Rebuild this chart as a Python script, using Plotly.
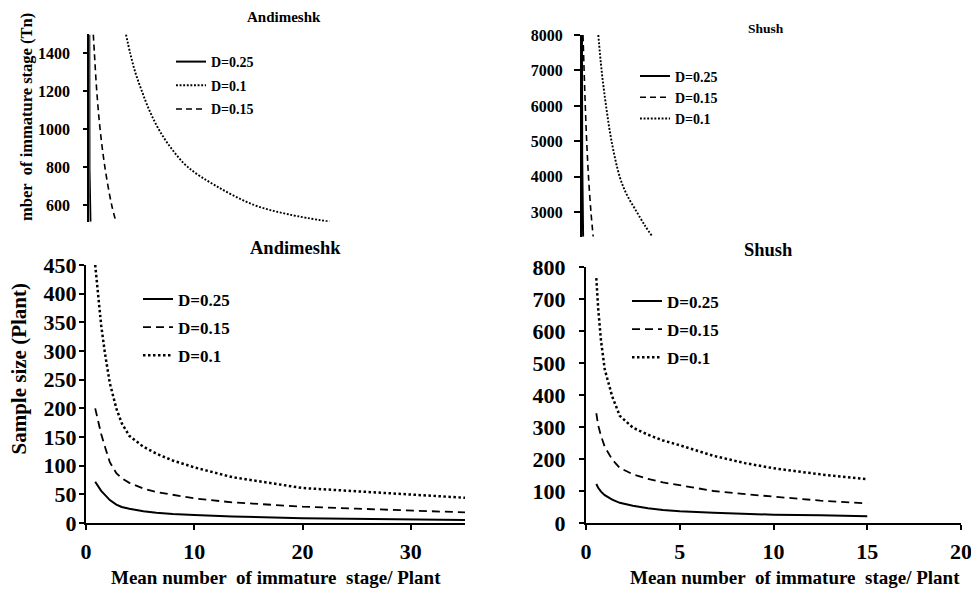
import plotly.graph_objects as go

W, H = 971, 589
FONT = "Times New Roman, Liberation Serif, serif"

# ---------------- data ----------------
# Bottom-left: Andimeshk, sample size (Plant) vs mean number of immature stage / plant
and_x = [0.85, 1.1, 1.4, 1.75, 2.2, 2.8, 3.3, 4.0, 5.3, 6.5, 8.0, 10, 13.5, 20, 25, 30, 35]
and_d010 = [450, 400, 345, 296, 244, 200, 174, 152, 133, 121, 109, 97, 80, 61, 55, 49, 44]
and_d015 = [200, 178, 155, 133, 106, 87, 78, 70, 60, 54, 49, 43, 36, 28.5, 25, 21.5, 18.5]
and_d025 = [72, 64, 56, 49, 40, 32, 28, 25, 20.5, 18, 15.7, 14, 11.5, 8.2, 7, 6, 5.2]

# Bottom-right: Shush
shu_x = [0.55, 0.65, 0.8, 1.0, 1.4, 1.8, 2.5, 3.3, 4.1, 5, 6.8, 8.5, 10, 12.5, 15]
shu_d010 = [765, 670, 570, 480, 395, 335, 298, 276, 258, 243, 210, 187, 171, 152, 137]
shu_d015 = [343, 305, 272, 238, 198, 172, 152, 138, 127, 118, 100, 90, 82, 70, 61]
shu_d025 = [122, 110, 98, 87, 73, 63, 54, 46, 41, 37, 32, 28, 26, 24, 21]

# Top-left: Andimeshk, number of immature stage (Tn) -- partial view
tl_d025_x = [0.0, 0.05, 0.3]
tl_d025_y = [1500, 790, 512]
tl_d015_x = [1.03, 1.31, 1.92, 2.77, 4.0, 5.74, 6.85]
tl_d015_y = [1500, 1400, 1200, 1000, 800, 600, 512]
tl_d010_x = [9.41, 10.5, 11.8, 13.5, 15.4, 17.8, 21.0, 25.3, 32.6, 42.3, 51.3, 61.7]
tl_d010_y = [1500, 1400, 1300, 1200, 1100, 1000, 900, 800, 700, 600, 550, 512]

# Top-right: Shush, Tn -- partial view
tr_d025_x = [0.0, 0.05, 0.3]
tr_d025_y = [8000, 4600, 2312]
tr_d015_x = [0.27, 0.57, 0.89, 1.27, 1.76, 2.43, 3.03]
tr_d015_y = [8000, 7000, 6000, 5000, 4000, 3000, 2312]
tr_d010_x = [4.41, 5.3, 6.5, 8.0, 10.2, 12.1, 14.86, 17.16, 19.05]
tr_d010_y = [8000, 7000, 6000, 5000, 4000, 3500, 3000, 2600, 2312]

# tick labels
and_yticks = [0, 50, 100, 150, 200, 250, 300, 350, 400, 450]
and_xticks = [0, 10, 20, 30]
shu_yticks = [0, 100, 200, 300, 400, 500, 600, 700, 800]
shu_xticks = [0, 5, 10, 15, 20]
tl_yticks = [600, 800, 1000, 1200, 1400]
tr_yticks = [3000, 4000, 5000, 6000, 7000, 8000]


def px(x):
    return x / W


def py(y):
    return 1 - y / H


SOLID = dict(color="black", width=2, dash="solid")
DASH = dict(color="black", width=1.8, dash="8px,5px")
DOT = dict(color="black", width=2.5, dash="2.5px,2.5px")
SOLID_S = dict(color="black", width=2, dash="solid")
DASH_S = dict(color="black", width=1.6, dash="6px,4px")
DOT_S = dict(color="black", width=1.9, dash="1.9px,1.7px")

fig = go.Figure()


def add(x, y, name, line, xa, ya, legend, shape="linear"):
    fig.add_trace(go.Scatter(
        x=x, y=y, name=name, mode="lines", line=dict(line, shape=shape),
        xaxis=xa, yaxis=ya, legend=legend, legendgroup=legend + name,
        hoverinfo="skip"))


# bottom-left
add(and_x, and_d025, "D=0.25", SOLID, "x", "y", "legend")
add(and_x, and_d015, "D=0.15", DASH, "x", "y", "legend")
add(and_x, and_d010, "D=0.1", DOT, "x", "y", "legend")
# bottom-right
add(shu_x, shu_d025, "D=0.25", SOLID, "x2", "y2", "legend2")
add(shu_x, shu_d015, "D=0.15", DASH, "x2", "y2", "legend2")
add(shu_x, shu_d010, "D=0.1", DOT, "x2", "y2", "legend2")
# top-left (legend order: 0.25, 0.1, 0.15)
add(tl_d025_x, tl_d025_y, "D=0.25", SOLID_S, "x3", "y3", "legend3")
add(tl_d010_x, tl_d010_y, "D=0.1", DOT_S, "x3", "y3", "legend3", "spline")
add(tl_d015_x, tl_d015_y, "D=0.15", DASH_S, "x3", "y3", "legend3", "spline")
# top-right
add(tr_d025_x, tr_d025_y, "D=0.25", SOLID_S, "x4", "y4", "legend4")
add(tr_d015_x, tr_d015_y, "D=0.15", DASH_S, "x4", "y4", "legend4", "spline")
add(tr_d010_x, tr_d010_y, "D=0.1", DOT_S, "x4", "y4", "legend4", "spline")

tick_font_big = dict(family=FONT, size=22, color="black", weight="bold")
tick_font_small = dict(family=FONT, size=16, color="black", weight="bold")

common = dict(showgrid=False, zeroline=False, showline=True, linecolor="black",
              linewidth=2, ticks="outside", tickcolor="black", tickwidth=2,
              ticklen=5, fixedrange=True, automargin=False)

hidden_x = dict(showgrid=False, zeroline=False, showline=False, showticklabels=False,
                ticks="", range=[0, 100], fixedrange=True, automargin=False)

fig.update_layout(
    width=W, height=H,
    margin=dict(l=0, r=0, t=0, b=0, pad=0, autoexpand=False),
    paper_bgcolor="white", plot_bgcolor="white",
    font=dict(family=FONT, color="black", weight="bold"),
    xaxis=dict(common, domain=[px(86), px(465)], range=[0, 35], tickvals=and_xticks,
               tickfont=tick_font_big, anchor="y", ticklabelstandoff=3),
    yaxis=dict(common, domain=[py(523), py(265)], range=[0, 450], tickvals=and_yticks,
               tickfont=tick_font_big, anchor="x", ticklabelstandoff=-2),
    xaxis2=dict(common, domain=[px(586), px(961)], range=[0, 20], tickvals=shu_xticks,
                tickfont=tick_font_big, anchor="y2", ticklabelstandoff=3,
                ticklabeloverflow="allow"),
    yaxis2=dict(common, domain=[py(523), py(267)], range=[0, 800], tickvals=shu_yticks,
                tickfont=tick_font_big, anchor="x2", ticklabelstandoff=9),
    xaxis3=dict(hidden_x, domain=[px(89.3), px(479)], anchor="y3"),
    yaxis3=dict(common, domain=[py(221.7), py(34.4)], range=[512, 1500], tickvals=tl_yticks,
                tickfont=tick_font_small, anchor="x3", ticklen=4, ticklabelstandoff=10),
    xaxis4=dict(hidden_x, domain=[px(582), px(952)], anchor="y4"),
    yaxis4=dict(common, domain=[py(236.7), py(35)], range=[2312, 8000], tickvals=tr_yticks,
                tickfont=tick_font_small, anchor="x4", ticklen=6, ticklabelstandoff=8),
    showlegend=True,
    legend=dict(x=px(138), y=py(281.5), xanchor="left", yanchor="top", bgcolor="rgba(0,0,0,0)",
                font=dict(family=FONT, size=17, color="black", weight="bold"),
                tracegroupgap=3, itemclick=False, itemdoubleclick=False),
    legend2=dict(x=px(627), y=py(283.5), xanchor="left", yanchor="top", bgcolor="rgba(0,0,0,0)",
                 font=dict(family=FONT, size=17, color="black", weight="bold"),
                 tracegroupgap=3, itemclick=False, itemdoubleclick=False),
    legend3=dict(x=px(171), y=py(46), xanchor="left", yanchor="top", bgcolor="rgba(0,0,0,0)",
                 font=dict(family=FONT, size=14, color="black", weight="bold"),
                 tracegroupgap=2.5, itemclick=False, itemdoubleclick=False),
    legend4=dict(x=px(635), y=py(60.5), xanchor="left", yanchor="top", bgcolor="rgba(0,0,0,0)",
                 font=dict(family=FONT, size=14, color="black", weight="bold"),
                 tracegroupgap=0, itemclick=False, itemdoubleclick=False),
)


def label(text, x, y, size, angle=0):
    fig.add_annotation(text=text, x=px(x), y=py(y), xref="paper", yref="paper",
                       xanchor="center", yanchor="middle", showarrow=False,
                       textangle=angle,
                       font=dict(family=FONT, size=size, color="black", weight="bold"))


label("Andimeshk", 284, 17, 15)
label("Shush", 766, 28, 13.5)
label("Andimeshk", 295, 248, 18.5)
label("Shush", 768, 250, 18.5)
label("Mean number\u00a0 of immature\u00a0 stage/ Plant", 276, 577, 19)
label("Mean number\u00a0 of immature\u00a0 stage/ Plant", 795, 577, 19)
label("Sample size (Plant)", 18.5, 369, 21, -90)
label("mber\u00a0 of immature stage (Tn)", 27, 117, 16.5, -90)

fig.write_html(
    "out.html",
    config={"displayModeBar": False, "staticPlot": False},
    post_script="document.body.style.margin='0px';document.body.style.overflow='hidden';",
)
